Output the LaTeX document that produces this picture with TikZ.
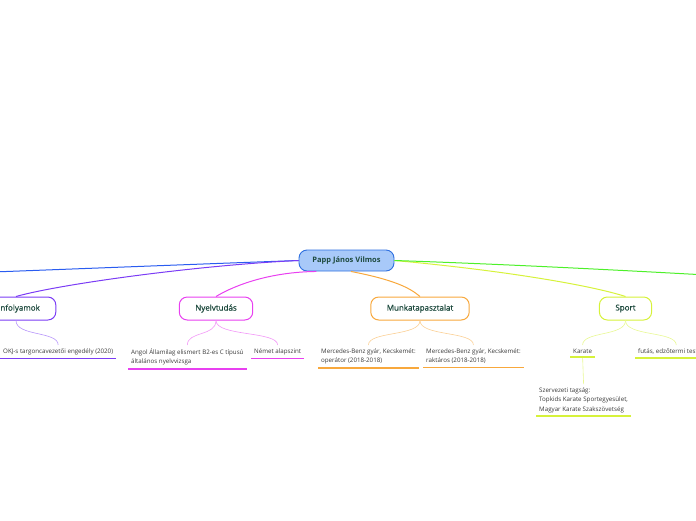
\documentclass[tikz,border=0pt]{standalone}
\usepackage{fontspec}
\setmainfont{Open Sans}
\newfontfamily\topicfont[FakeBold=0.8]{Open Sans}
\usetikzlibrary{positioning}
\definecolor{rootfill}{HTML}{A8C9F9}
\definecolor{rootline}{HTML}{2E6FE0}
\definecolor{bluebr}{HTML}{2A5CF0}
\definecolor{purplebr}{HTML}{7B3CF5}
\definecolor{magentabr}{HTML}{E840F0}
\definecolor{orangebr}{HTML}{F8A83C}
\definecolor{yellowbr}{HTML}{D6F23A}
\definecolor{greenbr}{HTML}{4DF02A}
\definecolor{labeltext}{HTML}{1E4A3E}
\definecolor{leaftext}{HTML}{3A3A3A}
\begin{document}
\begin{tikzpicture}[x=1pt, y=-1pt,
    root/.style={draw=rootline, fill=rootfill, rounded corners=8pt, line width=0.9pt, minimum width=95pt, minimum height=21pt, font=\fontsize{7.5}{9}\selectfont\bfseries, text=labeltext},
    topic/.style={draw=#1, fill=white, rounded corners=8pt, line width=1pt, minimum height=23pt, inner xsep=16pt, font=\fontsize{8}{10}\selectfont\topicfont, text=labeltext},
    leaf/.style={anchor=north west, align=left, inner xsep=3pt, inner ysep=3.5pt, font=\fontsize{6.2}{9.3}\selectfont, text=leaftext},
    branch/.style={draw=#1, line width=1pt},
    twig/.style={draw=#1!55, line width=0.6pt},
    uline/.style={draw=#1, line width=1.6pt}
]
\useasboundingbox (0,0) rectangle (696,520);
\clip (0,0) rectangle (696,520);

% main topics
\node[root] (root) at (346.5,260.5) {Papp János Vilmos};
\node[topic=purplebr] (courses) at (16,308.5) {Tanfolyamok};
\node[topic=magentabr] (lang) at (216,308.5) {Nyelvtudás};
\node[topic=orangebr] (work) at (420,308.5) {Munkatapasztalat};
\node[topic=yellowbr] (sport) at (625.5,308.5) {Sport};
\coordinate (blueend) at (-60,274);
\coordinate (greenend) at (760,278);

% branches from the root
\draw[branch=bluebr] (root.west) .. controls (200,264) and (100,268) .. (blueend);
\draw[branch=purplebr] (root.west) .. controls (200,265) and (60,284) .. (courses.north);
\draw[branch=magentabr] (root.200) .. controls (270,272) and (235,285) .. (lang.north);
\draw[branch=orangebr] (root.-68) .. controls (395,280) and (410,288) .. (work.north);
\draw[branch=yellowbr] (root.east) .. controls (500,270) and (590,285) .. (sport.north);
\draw[branch=greenbr] (root.east) .. controls (500,264) and (620,270) .. (greenend);

% leaves
\node[leaf] (okj) at (0,345) {OKJ-s targoncavezetői engedély (2020)};
\node[leaf] (angol) at (128,345) {Angol Államilag elismert B2-es C típusú\\általános nyelvvizsga};
\node[leaf] (nemet) at (251,345) {Német alapszint};
\node[leaf] (oper) at (318,345) {Mercedes-Benz gyár, Kecskemét:\\operátor (2018-2018)};
\node[leaf] (rakt) at (423,345) {Mercedes-Benz gyár, Kecskemét:\\raktáros (2018-2018)};
\node[leaf] (karate) at (570,345) {Karate};
\node[leaf] (futas) at (635,345) {futás, edzőtermi testedzés};
\node[leaf] (szerv) at (536,384) {Szervezeti tagság:\\Topkids Karate Sportegyesület,\\Magyar Karate Szakszövetség};

% twigs
\draw[twig=purplebr] (courses.south) .. controls +(0,16) and +(0,-14) .. (okj.north);
\draw[twig=magentabr] (lang.south) .. controls +(0,16) and +(0,-14) .. (angol.north);
\draw[twig=magentabr] (lang.south) .. controls +(0,16) and +(0,-14) .. (nemet.north);
\draw[twig=orangebr] (work.south) .. controls +(0,16) and +(0,-14) .. (oper.north);
\draw[twig=orangebr] (work.south) .. controls +(0,16) and +(0,-14) .. (rakt.north);
\draw[twig=yellowbr] (sport.south) .. controls +(0,16) and +(0,-14) .. (karate.north);
\draw[twig=yellowbr] (sport.south) .. controls +(0,16) and +(0,-14) .. (futas.north);
\draw[twig=yellowbr] (karate.south) -- (szerv.north);

% underlines
\draw[uline=purplebr] (okj.south west) -- (okj.south east);
\draw[uline=magentabr] (angol.south west) -- (angol.south east);
\draw[uline=magentabr] (nemet.south west) -- (nemet.south east);
\draw[uline=orangebr] (oper.south west) -- (oper.south east);
\draw[uline=orangebr] (rakt.south west) -- (rakt.south east);
\draw[uline=yellowbr] (karate.south west) -- (karate.south east);
\draw[uline=yellowbr] (futas.south west) -- (futas.south east);
\draw[uline=yellowbr] (szerv.south west) -- (szerv.south east);
\end{tikzpicture}
\end{document}
